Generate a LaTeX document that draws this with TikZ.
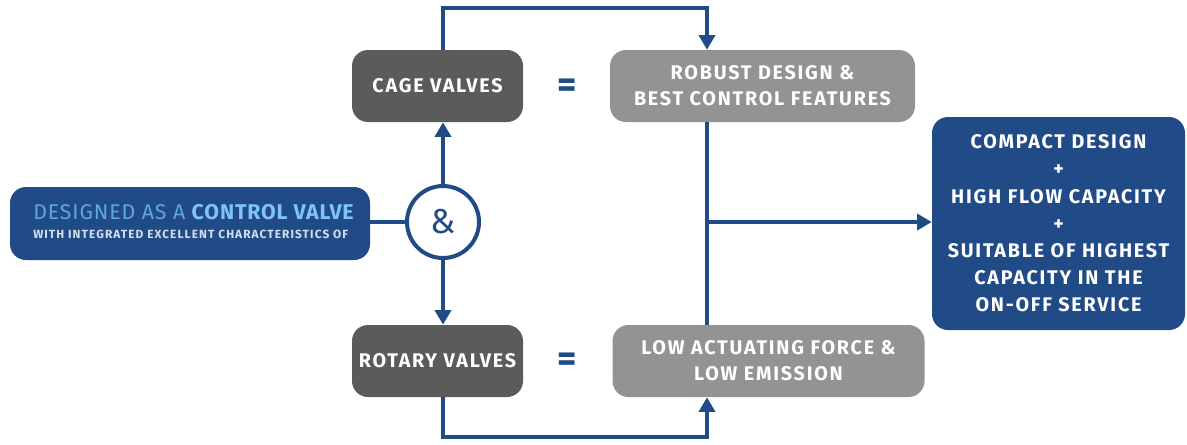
\documentclass[tikz,border=0pt]{standalone}
\usepackage{fontspec}
\setmainfont{Fira Sans}
\newfontfamily\din[LetterSpace=9]{Fira Sans}
\newfontfamily\dinn[LetterSpace=4]{Fira Sans}
\usetikzlibrary{arrows.meta,calc}
\definecolor{navy}{HTML}{214B86}
\definecolor{darkg}{HTML}{5B5B5B}
\definecolor{lightg}{HTML}{939393}
\definecolor{skyA}{HTML}{5FA6DE}
\definecolor{skyB}{HTML}{7EC4F4}
\definecolor{paleT}{HTML}{D3DEEC}
\tikzset{
  box/.style={rounded corners=12, inner sep=0pt, align=center, text=white, font=\din\bfseries\fontsize{14.8}{19.5}\selectfont},
  valvebox/.style={box, fill=darkg, minimum width=171*0.75pt, minimum height=72*0.75pt},
  featbox/.style={box, fill=lightg, minimum height=72*0.75pt},
  conn/.style={navy, line width=3pt},
  arr/.style={conn, -{Triangle[length=11pt,width=12pt]}},
  eqsign/.style={text=navy, font=\bfseries\fontsize{28}{28}\selectfont, inner sep=0pt}
}
\begin{document}
\begin{tikzpicture}[x=0.75pt,y=-0.75pt]
\useasboundingbox (0,0) rectangle (1187,444);
\fill[white] (0,0) rectangle (1187,444);
% nodes
\node[box, fill=navy, minimum width=360*0.75pt, minimum height=73*0.75pt] (left) at (190,223.5) {};
\node[align=left, anchor=south west, inner sep=0pt, text=skyA, font=\dinn\fontsize{16}{16}\selectfont] (l1) at (33,220) {DESIGNED AS A \textcolor{skyB}{\bfseries CONTROL VALVE}};
\node[anchor=south west, inner sep=0pt, text=paleT, font=\din\bfseries\fontsize{8.9}{9}\selectfont] (l2) at (33,239) {WITH INTEGRATED EXCELLENT CHARACTERISTICS OF};
\node[circle, draw=navy, line width=3pt, minimum size=72*0.75pt, inner sep=0pt, text=navy, font=\fontsize{26}{26}\selectfont] (amp) at (443,222) {\&};
\node[valvebox] (cage) at (437.5,86) {CAGE VALVES};
\node[valvebox] (rotary) at (437.5,361) {ROTARY VALVES};
\node[featbox, minimum width=305*0.75pt] (robust) at (762.5,86) {ROBUST DESIGN \&\\BEST CONTROL FEATURES};
\node[featbox, minimum width=312*0.75pt] (low) at (768.5,361) {LOW ACTUATING FORCE \&\\LOW EMISSION};
\node[eqsign] (eq1) at (567,88) {=};
\node[eqsign] (eq2) at (567,362) {=};
\node[box, fill=navy, minimum width=253*0.75pt, minimum height=213*0.75pt, font=\din\bfseries\fontsize{14.8}{20.4}\selectfont] (res) at (1058.5,223.5) {COMPACT DESIGN\\+\\HIGH FLOW CAPACITY\\+\\SUITABLE OF HIGHEST\\CAPACITY IN THE\\ON-OFF SERVICE};
% coordinates
\coordinate (tc) at (707,8);
\coordinate (bc) at (707,437);
\coordinate (jn) at (707,222);
% connectors
\draw[conn] (left.east |- amp) -- (amp.west);
\draw[arr] (amp.north) -- (amp.north |- cage.south);
\draw[arr] (amp.south) -- (amp.south |- rotary.north);
\draw[arr] (amp |- cage.north) |- (tc) -- (tc |- robust.north);
\draw[arr] (amp |- rotary.south) |- (bc) -- (bc |- low.south);
\draw[conn] (tc |- robust.south) -- (tc |- low.north);
\draw[arr] (jn) -- (res.west |- jn);
\end{tikzpicture}
\end{document}
